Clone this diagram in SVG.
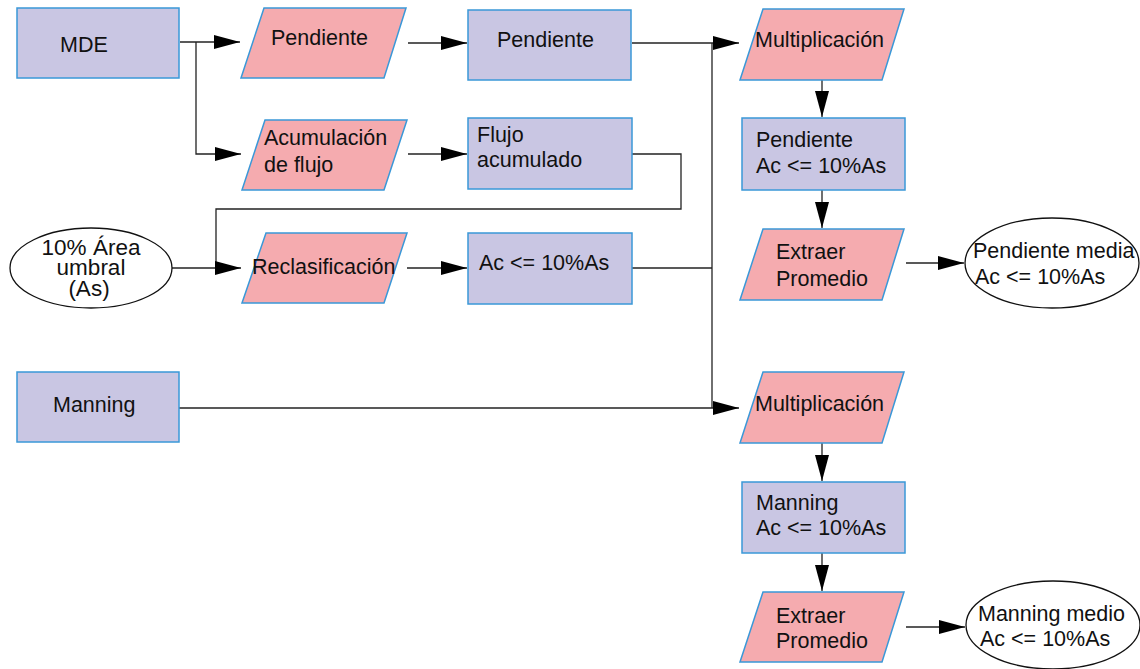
<svg xmlns="http://www.w3.org/2000/svg" width="1140" height="669" viewBox="0 0 1140 669">
  <style>
    .data { fill: #c9c6e3; stroke: #3a98d8; stroke-width: 1.5; }
    .proc { fill: #f5abaf; stroke: #3a98d8; stroke-width: 1.5; }
    .term { fill: #ffffff; stroke: #111111; stroke-width: 1.3; }
    .lbl { font-family: "Liberation Sans", Arial, sans-serif; font-size: 21.5px; fill: #111111; }
    .big { font-size: 22.5px; }
    .conn path { fill: none; stroke: #222222; stroke-width: 1.3; }
  </style>
  <defs>
    <marker id="arrow" markerUnits="userSpaceOnUse" markerWidth="26" markerHeight="14" refX="26" refY="7" orient="auto">
      <path d="M0,0 L26,7 L0,14 z" fill="#000000"/>
    </marker>
  </defs>

  <rect width="1140" height="669" fill="#ffffff"/>

  <!-- connectors -->
  <g id="connectors" class="conn">
    <path d="M180,42 H240" marker-end="url(#arrow)"/>
    <path d="M196,42 V154 H241" marker-end="url(#arrow)"/>
    <path d="M408,43 H467" marker-end="url(#arrow)"/>
    <path d="M408,154 H467" marker-end="url(#arrow)"/>
    <path d="M632,154 H681 V209 H216 V268"/>
    <path d="M172,268 H241" marker-end="url(#arrow)"/>
    <path d="M407,268 H467" marker-end="url(#arrow)"/>
    <path d="M632,43 H739" marker-end="url(#arrow)"/>
    <path d="M632,268 H712"/>
    <path d="M712,43 V408"/>
    <path d="M179,408 H739" marker-end="url(#arrow)"/>
    <path d="M822,80 V117" marker-end="url(#arrow)"/>
    <path d="M822,190 V228" marker-end="url(#arrow)"/>
    <path d="M906,263 H964" marker-end="url(#arrow)"/>
    <path d="M822,443 V481" marker-end="url(#arrow)"/>
    <path d="M822,553 V591" marker-end="url(#arrow)"/>
    <path d="M906,627 H965" marker-end="url(#arrow)"/>
  </g>

  <!-- inputs -->
  <g id="mde">
    <rect class="data" x="17" y="8" width="162" height="70"/>
    <text class="lbl" x="60" y="52">MDE</text>
  </g>
  <g id="umbral">
    <ellipse class="term" cx="91" cy="268" rx="81" ry="40"/>
    <text class="lbl big" x="91" y="255" text-anchor="middle">10% Área</text>
    <text class="lbl big" x="91" y="275" text-anchor="middle">umbral</text>
    <text class="lbl big" x="89" y="296" text-anchor="middle">(As)</text>
  </g>
  <g id="manning">
    <rect class="data" x="17" y="372" width="162" height="70"/>
    <text class="lbl" x="53" y="412">Manning</text>
  </g>

  <!-- first column of operations -->
  <g id="op-pendiente">
    <polygon class="proc" points="264,8 406,8 384,78 241,78"/>
    <text class="lbl" x="271" y="45">Pendiente</text>
  </g>
  <g id="op-acumulacion">
    <polygon class="proc" points="265,120 407,120 384,190 242,190"/>
    <text class="lbl" x="264" y="145">Acumulación</text>
    <text class="lbl" x="264" y="172">de flujo</text>
  </g>
  <g id="op-reclasificacion">
    <polygon class="proc" points="266,233 407,233 384,303 242,303"/>
    <text class="lbl" x="252" y="274">Reclasificación</text>
  </g>

  <!-- intermediate rasters -->
  <g id="pendiente">
    <rect class="data" x="468" y="10" width="163" height="70"/>
    <text class="lbl" x="497" y="47">Pendiente</text>
  </g>
  <g id="flujo">
    <rect class="data" x="468" y="118" width="164" height="71"/>
    <text class="lbl" x="477" y="142">Flujo</text>
    <text class="lbl" x="477" y="167">acumulado</text>
  </g>
  <g id="mascara">
    <rect class="data" x="468" y="233" width="164" height="71"/>
    <text class="lbl" x="479" y="270">Ac &lt;= 10%As</text>
  </g>

  <!-- slope branch -->
  <g id="mult-pendiente">
    <polygon class="proc" points="763,9 904,9 882,80 740,80"/>
    <text class="lbl" x="755" y="47">Multiplicación</text>
  </g>
  <g id="pendiente-ac">
    <rect class="data" x="742" y="118" width="163" height="72"/>
    <text class="lbl" x="756" y="147">Pendiente</text>
    <text class="lbl" x="756" y="173">Ac &lt;= 10%As</text>
  </g>
  <g id="extraer-pendiente">
    <polygon class="proc" points="763,229 904,229 882,300 740,300"/>
    <text class="lbl" x="776" y="259">Extraer</text>
    <text class="lbl" x="776" y="286">Promedio</text>
  </g>
  <g id="pendiente-media">
    <ellipse class="term" cx="1052" cy="263" rx="87" ry="45"/>
    <text class="lbl" x="973" y="258">Pendiente media</text>
    <text class="lbl" x="975" y="284">Ac &lt;= 10%As</text>
  </g>

  <!-- roughness branch -->
  <g id="mult-manning">
    <polygon class="proc" points="763,372 904,372 882,443 740,443"/>
    <text class="lbl" x="755" y="411">Multiplicación</text>
  </g>
  <g id="manning-ac">
    <rect class="data" x="742" y="482" width="163" height="71"/>
    <text class="lbl" x="756" y="510">Manning</text>
    <text class="lbl" x="756" y="535">Ac &lt;= 10%As</text>
  </g>
  <g id="extraer-manning">
    <polygon class="proc" points="763,592 904,592 882,662 740,662"/>
    <text class="lbl" x="776" y="623">Extraer</text>
    <text class="lbl" x="776" y="648">Promedio</text>
  </g>
  <g id="manning-medio">
    <ellipse class="term" cx="1053" cy="625" rx="87" ry="44"/>
    <text class="lbl" x="978" y="621">Manning medio</text>
    <text class="lbl" x="980" y="646">Ac &lt;= 10%As</text>
  </g>
</svg>
